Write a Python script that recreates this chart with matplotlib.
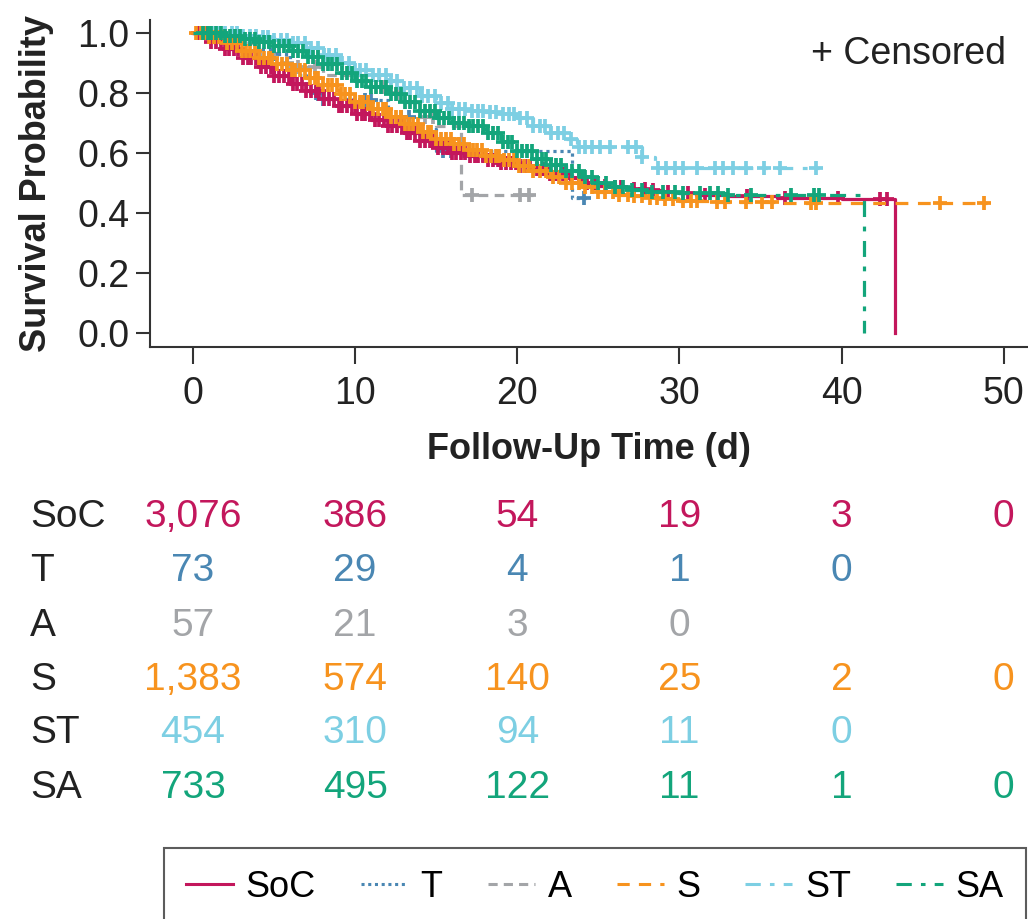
import numpy as np
import matplotlib
matplotlib.use("Agg")
import matplotlib.pyplot as plt
import matplotlib.transforms as mtransforms

plt.rcParams['font.family'] = ['Liberation Sans', 'DejaVu Sans']

# groups, colours and line styles
groups = ["SoC", "T", "A", "S", "ST", "SA"]
colors = {"SoC": "#C3175C", "T": "#4A87B3", "A": "#A3A5A8",
          "S": "#F7931E", "ST": "#7DCFE3", "SA": "#13A57B"}
dashes = {"SoC": None, "T": (1, 1.2), "A": (3, 2), "S": (4, 3),
          "ST": (5, 3, 1.5, 3), "SA": (5, 3, 1.5, 3)}

# Kaplan-Meier step knots (time in days, survival)
soc_t = [0, 1, 2, 3, 4, 5, 6, 7, 8, 9, 10, 11, 12, 13, 14, 15, 16, 17, 18, 19, 20,
         21, 22, 23, 24, 25, 26, 27, 28, 29, 30, 31, 33, 36, 40, 43.3]
soc_s = [1.0, 0.97, 0.945, 0.915, 0.885, 0.855, 0.83, 0.805, 0.78, 0.755, 0.73,
         0.71, 0.69, 0.665, 0.64, 0.615, 0.60, 0.59, 0.575, 0.565, 0.555, 0.545,
         0.53, 0.515, 0.50, 0.49, 0.485, 0.48, 0.475, 0.47, 0.465, 0.46, 0.455,
         0.45, 0.447, 0.0]

t_t = [0, 2, 4, 5, 6, 7, 8, 10, 12, 14, 15, 23.4, 24.3]
t_s = [1.0, 0.97, 0.945, 0.93, 0.86, 0.80, 0.78, 0.775, 0.72, 0.68, 0.607, 0.45, 0.45]

a_t = [0, 2, 4, 5, 6, 8, 11.5, 12, 13, 14, 15, 16.5, 21.0]
a_s = [1.0, 0.965, 0.93, 0.90, 0.885, 0.86, 0.82, 0.80, 0.77, 0.72, 0.69, 0.46, 0.46]

s_t = [0, 1, 2, 3, 4, 5, 6, 7, 8, 9, 10, 11, 12, 13, 14, 15, 16, 17, 18, 19, 20,
       21, 22, 23, 24, 25, 26, 27, 28, 29, 30, 32, 36, 49.0]
s_s = [1.0, 0.985, 0.965, 0.94, 0.915, 0.895, 0.875, 0.85, 0.825, 0.795, 0.77,
       0.745, 0.72, 0.695, 0.67, 0.645, 0.63, 0.61, 0.59, 0.575, 0.555, 0.54,
       0.52, 0.50, 0.485, 0.47, 0.46, 0.455, 0.45, 0.445, 0.44, 0.435, 0.433, 0.433]

st_t = [0, 2, 3, 4, 5, 6, 7, 8, 9, 10, 11, 12, 13, 14, 15, 16, 17, 18, 19, 20,
        21, 22, 23, 23.7, 27.7, 28.5, 38.6]
st_s = [1.0, 1.0, 0.99, 0.985, 0.975, 0.965, 0.95, 0.925, 0.90, 0.875, 0.86,
        0.84, 0.815, 0.79, 0.765, 0.745, 0.74, 0.735, 0.73, 0.715, 0.69, 0.665,
        0.645, 0.62, 0.587, 0.55, 0.55]

sa_t = [0, 1, 2, 3, 4, 5, 6, 7, 8, 9, 10, 11, 12, 13, 14, 15, 16, 17, 18, 19, 20,
        21, 22, 23, 24, 25, 26, 27, 28, 30, 33, 41.4]
sa_s = [1.0, 1.0, 0.99, 0.98, 0.97, 0.955, 0.94, 0.92, 0.895, 0.865, 0.84, 0.82,
        0.795, 0.77, 0.74, 0.715, 0.70, 0.69, 0.665, 0.635, 0.605, 0.58, 0.56,
        0.54, 0.52, 0.50, 0.485, 0.475, 0.47, 0.465, 0.46, 0.0]

# censoring times
soc_c = [0.3, 0.6, 0.8, 1.1, 1.4, 1.7, 2.0, 2.2, 2.5, 2.8, 3.1, 3.4, 3.6, 3.9, 4.2,
         4.5, 4.8, 5.0, 5.3, 5.6, 5.9, 6.2, 6.4, 6.7, 7.0, 7.3, 7.6, 7.8, 8.1, 8.4,
         8.7, 9.0, 9.2, 9.5, 9.8, 10.1, 10.4, 10.6, 10.9, 11.2, 11.5, 11.8, 12.0,
         12.3, 12.6, 12.9, 13.2, 13.4, 13.7, 14.0, 14.3, 14.6, 14.8, 15.1, 15.4,
         15.7, 16.0, 16.2, 16.5, 16.8, 17.1, 17.4, 17.6, 17.9, 18.2, 18.5, 18.8,
         19.0, 19.3, 19.6, 19.9, 20.2, 20.5, 20.8, 21.2, 21.6, 22.0, 22.4, 22.8,
         23.3, 23.8, 24.3, 24.8, 25.4, 26.0, 26.4, 27.2, 27.9, 28.4, 29.3, 30.5,
         31.6, 34.2, 36.5, 39.8, 42.4, 42.8]
t_c = [5.0, 7.6, 8.0, 10.6, 11.0, 12.8, 13.3, 15.4, 15.9, 24.1]
a_c = [5.8, 6.5, 7.5, 11.8, 12.6, 14.3, 14.8, 17.2, 20.2, 20.7]
s_c = [0.2, 0.5, 0.7, 1.0, 1.3, 1.6, 1.9, 2.1, 2.4, 2.7, 3.0, 3.3, 3.5, 3.8, 4.1,
       4.4, 4.7, 4.9, 5.2, 5.5, 5.8, 6.1, 6.3, 6.6, 6.9, 7.2, 7.5, 7.7, 8.0, 8.3,
       8.6, 8.9, 9.1, 9.4, 9.7, 10.0, 10.3, 10.5, 10.8, 11.1, 11.4, 11.7, 11.9,
       12.2, 12.5, 12.8, 13.1, 13.3, 13.6, 13.9, 14.2, 14.5, 14.7, 15.0, 15.3,
       15.6, 15.9, 16.1, 16.4, 16.7, 17.0, 17.3, 17.5, 17.8, 18.1, 18.4, 18.7,
       18.9, 19.2, 19.5, 19.8, 20.1, 20.4, 20.7, 21.0, 21.4, 21.8, 22.2, 22.6,
       23.0, 23.4, 23.8, 24.2, 24.6, 25.0, 25.4, 25.9, 26.3, 26.8, 27.2, 27.7,
       28.2, 28.6, 29.1, 29.6, 30.2, 30.7, 31.1, 32.3, 32.8, 34.1, 35.1, 35.7,
       38.1, 38.4, 46.1, 48.8]
st_c = [1.2, 1.6, 2.0, 2.4, 2.7, 3.1, 3.5, 3.9, 4.3, 4.6, 5.0, 5.4, 5.8, 6.2,
        6.5, 6.9, 7.3, 7.7, 8.1, 8.4, 8.8, 9.2, 9.6, 10.0, 10.3, 10.7, 11.1,
        11.5, 11.9, 12.2, 12.6, 13.0, 13.4, 13.8, 14.1, 14.5, 14.9, 15.3, 15.7,
        16.0, 16.4, 16.8, 17.2, 17.6, 17.9, 18.3, 18.7, 19.1, 19.5, 19.8, 20.2,
        20.6, 21.0, 21.4, 21.7, 22.1, 22.5, 22.9, 23.3, 23.8, 24.2, 24.6, 25.1,
        25.7, 26.8, 27.3, 27.7, 28.7, 29.2, 29.7, 30.2, 31.1, 32.2, 32.7, 33.3,
        34.1, 35.2, 36.2, 38.4]
sa_c = [0.6, 0.9, 1.1, 1.4, 1.7, 2.0, 2.3, 2.6, 2.9, 3.2, 3.5, 3.8, 4.1, 4.4, 4.7,
        5.0, 5.3, 5.6, 5.9, 6.2, 6.5, 6.8, 7.1, 7.4, 7.7, 8.0, 8.3, 8.6, 8.9, 9.2,
        9.5, 9.8, 10.1, 10.4, 10.7, 11.0, 11.3, 11.6, 11.9, 12.2, 12.5, 12.8,
        13.1, 13.4, 13.7, 14.0, 14.3, 14.6, 14.9, 15.2, 15.5, 15.8, 16.1, 16.4,
        16.7, 17.0, 17.3, 17.6, 17.9, 18.2, 18.5, 18.8, 19.1, 19.4, 19.7, 20.0,
        20.3, 20.6, 20.9, 21.2, 21.5, 21.8, 22.1, 22.4, 22.7, 23.0, 23.4, 23.8,
        24.2, 24.6, 25.0, 25.5, 26.0, 26.5, 27.1, 27.7, 28.3, 29.0, 29.7, 30.2,
        31.3, 31.9, 32.4, 33.0, 34.4, 36.9, 38.3, 38.6]

curves = {"SoC": (soc_t, soc_s, soc_c), "T": (t_t, t_s, t_c), "A": (a_t, a_s, a_c),
          "S": (s_t, s_s, s_c), "ST": (st_t, st_s, st_c), "SA": (sa_t, sa_s, sa_c)}

# number at risk table
risk_times = [0, 10, 20, 30, 40, 50]
at_risk = {
    "SoC": ["3,076", "386", "54", "19", "3", "0"],
    "T": ["73", "29", "4", "1", "0", ""],
    "A": ["57", "21", "3", "0", "", ""],
    "S": ["1,383", "574", "140", "25", "2", "0"],
    "ST": ["454", "310", "94", "11", "0", ""],
    "SA": ["733", "495", "122", "11", "1", "0"],
}

W, H = 1028, 919
fig = plt.figure(figsize=(W / 100, H / 100), dpi=100)
ax = fig.add_axes([150 / W, 1 - 347 / H, 878 / W, 327 / H])

draw_order = ["T", "A", "ST", "SoC", "S", "SA"]
for g in draw_order:
    t, s, c = curves[g]
    t = np.asarray(t)
    s = np.asarray(s)
    line, = ax.step(t, s, where="post", color=colors[g], lw=2.3)
    if dashes[g] is not None:
        line.set_dashes(dashes[g])
    # censor marks sit on the step at the censoring time
    idx = np.searchsorted(t, c, side="right") - 1
    ax.plot(c, s[idx], ls="none", marker="+", ms=10.5, mew=2.7, color=colors[g])

ax.set_xlim(-2.65, 51.5)
ax.set_ylim(-0.047, 1.043)
ax.set_xticks(risk_times)
ax.set_yticks([0.0, 0.2, 0.4, 0.6, 0.8, 1.0])
ax.set_yticklabels(["0.0", "0.2", "0.4", "0.6", "0.8", "1.0"])
for side in ["top", "right"]:
    ax.spines[side].set_visible(False)
for side in ["left", "bottom"]:
    ax.spines[side].set_linewidth(1.5)
    ax.spines[side].set_color("#333333")
ax.tick_params(axis="both", direction="out", width=1.5,
               color="#333333", labelsize=27, labelcolor="#222222")
ax.tick_params(axis="x", pad=9, length=12)
ax.tick_params(axis="y", pad=5, length=10)
ax.set_xlabel("Follow-Up Time (d)", fontsize=26, fontweight="bold", color="#222222")
ax.set_ylabel("Survival Probability", fontsize=26, fontweight="bold", color="#222222")
ax.xaxis.set_label_coords(0.5, (347 - 432) / 327)
ax.yaxis.set_label_coords((54 - 150) / 878, 0.5)
ax.text(0.975, 0.895, "+ Censored", transform=ax.transAxes, ha="right",
        va="center", fontsize=27, color="#222222")

# risk table under the plot, columns aligned with the x axis
trans = mtransforms.blended_transform_factory(ax.transData, fig.transFigure)
row_y = [517, 571, 626, 680, 733, 788]
for g, yp in zip(groups, row_y):
    fy = 1 - yp / H
    fig.text(30 / W, fy, g, ha="left", va="center", fontsize=28, color="#222222")
    for tx, val in zip(risk_times, at_risk[g]):
        if val:
            ax.text(tx, fy, val, transform=trans, ha="center", va="center",
                    fontsize=28, color=colors[g], clip_on=False)

# legend
handles = []
for g in groups:
    h, = ax.plot([], [], color=colors[g], lw=2.2)
    if dashes[g] is not None:
        h.set_dashes(dashes[g])
    handles.append(h)
leg = fig.legend(handles, groups, loc="upper center", ncol=6,
                 bbox_to_anchor=((170 + 1020) / 2 / W, 1 - 848 / H),
                 fontsize=26, frameon=True, fancybox=False, borderpad=0.6,
                 borderaxespad=0, handlelength=1.3, handletextpad=0.35,
                 columnspacing=1.25)
leg.get_frame().set_edgecolor("#333333")
leg.get_frame().set_linewidth(1.5)

fig.savefig("out.png", dpi=100)
